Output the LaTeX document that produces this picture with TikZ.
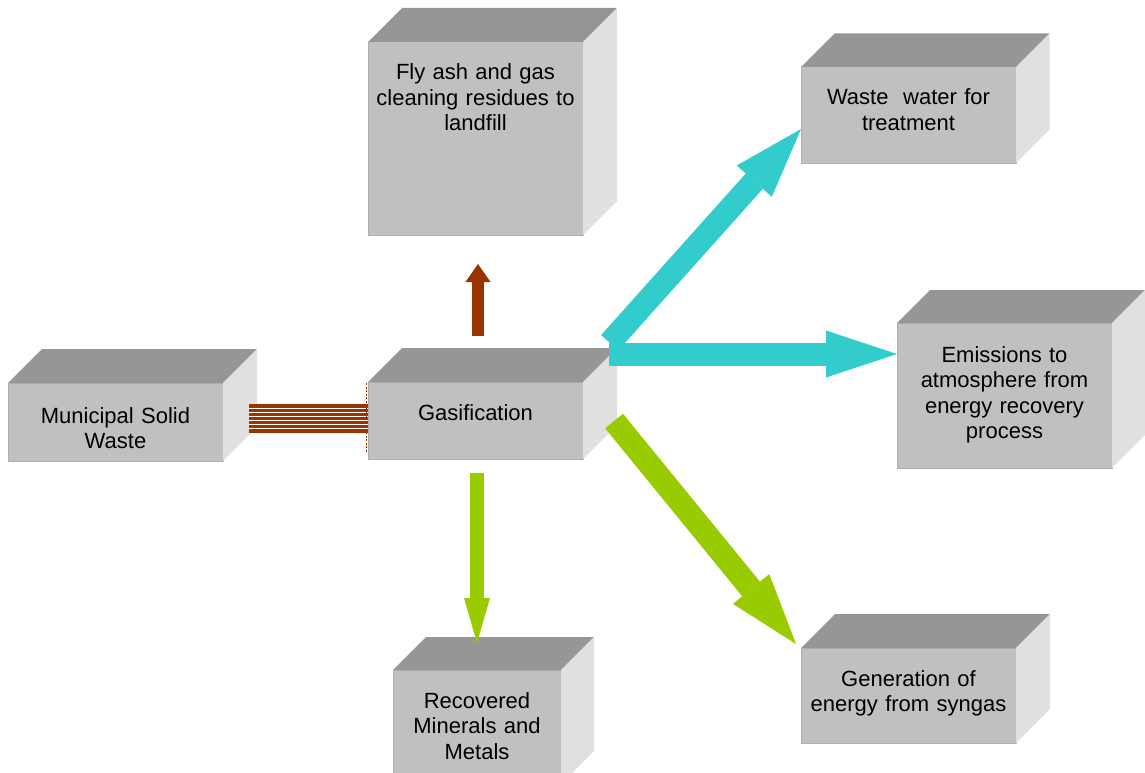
\documentclass[tikz,border=0pt]{standalone}
\usepackage{fontspec}
\setmainfont{Liberation Sans}
\usetikzlibrary{calc,arrows.meta}

\definecolor{frontc}{HTML}{C0C0C0}
\definecolor{topc}{HTML}{969696}
\definecolor{sidec}{HTML}{E0E0E0}
\definecolor{edgec}{HTML}{B0B0B0}
\definecolor{rustc}{HTML}{993300}
\definecolor{cyanc}{HTML}{33CCCC}
\definecolor{limec}{HTML}{99CC00}

\tikzset{
  front/.style={rectangle, fill=frontc, draw=edgec, line width=1pt,
                inner sep=0pt, outer sep=0pt},
  lbl/.style={align=center, inner sep=0pt, anchor=base,
              font=\fontsize{22}{25.5}\selectfont},
  blockarrow/.style n args={4}{line width=#1, line cap=butt,
              -{Triangle[length=#3, width=#2, line width=0pt]}, draw=#4},
}

% a grey box seen from above right: front face node, then top and side faces
\newcommand\greybox[6]{%
  \node[front, minimum width={(#4-#2)*1pt}, minimum height={(#5-#3)*1pt}]
    (#1) at ({(#2+#4)/2},{(#3+#5)/2}) {};
  \fill[topc] (#1.north west) -- ++(#6,-#6) -- ($(#1.north east)+(#6,-#6)$)
    -- (#1.north east) -- cycle;
  \fill[sidec] (#1.north east) -- ++(#6,-#6) -- ($(#1.south east)+(#6,-#6)$)
    -- (#1.south east) -- cycle;
}

\begin{document}
\begin{tikzpicture}[x=1pt, y=-1pt]
  \useasboundingbox (0,0) rectangle (1145,773);

  % boxes
  \greybox{msw}{8}{383}{223}{461}{34}
  \greybox{gas}{368}{382}{583}{459}{34}
  \greybox{fly}{368}{42}{583}{235}{34}
  \greybox{ww}{801}{67}{1016}{163}{33.5}
  \greybox{em}{897}{323}{1112}{468}{33}
  \greybox{gen}{801}{648}{1016}{743}{34}
  \greybox{rec}{393}{670}{561}{784}{33}

  % labels
  \node[lbl, text width=215pt] (msw-t) at (115.5,423) {Municipal Solid\\Waste};
  \node[lbl, text width=215pt] (gas-t) at (475.5,420) {Gasification};
  \node[lbl, text width=215pt] (fly-t) at (475.5,80)
    {Fly ash and gas\\cleaning residues to\\landfill};
  \node[lbl, text width=215pt] (ww-t) at (908.5,105) {Waste\ \ water for\\treatment};
  \node[lbl, text width=215pt] (em-t) at (1004.5,362)
    {Emissions to\\atmosphere from\\energy recovery\\process};
  \node[lbl, text width=215pt] (gen-t) at (908.5,686)
    {Generation of\\energy from syngas};
  \node[lbl, text width=168pt] (rec-t) at (477,708)
    {Recovered\\Minerals and\\Metals};

  % striped feed arrow into gasification
  \coordinate (stA) at (249,418.5);
  \coordinate (stB) at (gas.west |- stA);
  \draw[rustc, line width=29pt] (stA) -- (stB);
  \foreach \k in {1,...,6}{
    \draw[white, line width=1.1pt]
      ($(stA)+(0,-14.5+\k*4.14)$) -- ($(stB)+(0,-14.5+\k*4.14)$);
  }
  \coordinate (stH1) at (366,383);
  \coordinate (stH2) at (366,452);
  \draw[rustc, line width=1pt, dash pattern=on 2pt off 1.5pt] (stH1) -- (stH2);

  % residues upwards
  \coordinate (upS) at (478,336);
  \coordinate (upE) at (478,264);
  \draw[blockarrow={12pt}{25pt}{18pt}{rustc}] (upS) -- (upE);

  % recovered materials downwards
  \coordinate (dnS) at (477,473);
  \coordinate (dnE) at (477,643);
  \draw[blockarrow={14pt}{26pt}{45pt}{limec}] (dnS) -- (dnE);

  % water and emissions
  \coordinate (cyD) at (609.7,342.7);
  \coordinate (cyDE) at (801,129);
  \coordinate (cyH) at (609,354);
  \coordinate (cyHE) at (897,354);
  \draw[blockarrow={23pt}{47pt}{70pt}{cyanc}] (cyD) -- (cyDE);
  \draw[blockarrow={23pt}{47pt}{71pt}{cyanc}] (cyH) -- (cyHE);

  % syngas energy
  \coordinate (grS) at (614,421);
  \coordinate (grE) at (796,644);
  \draw[blockarrow={23pt}{47pt}{71pt}{limec}] (grS) -- (grE);
\end{tikzpicture}
\end{document}
